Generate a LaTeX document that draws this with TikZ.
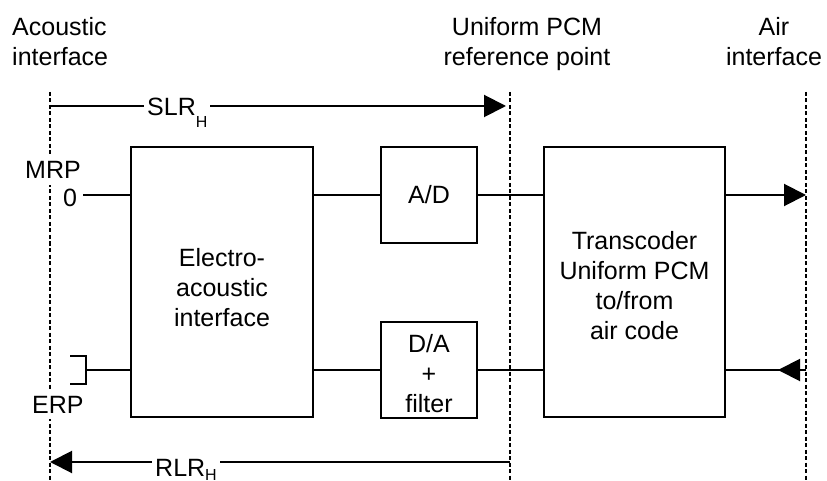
\documentclass[tikz,border=0pt]{standalone}
\usepackage{fontspec}
\setmainfont{Liberation Sans}
\usetikzlibrary{arrows.meta}
\newcommand{\subH}[1]{\raisebox{#1}{\fontsize{16}{16}\selectfont H}}
\begin{document}
\begin{tikzpicture}[x=1pt,y=-1pt,
  font=\fontsize{25}{30}\selectfont,
  every node/.style={inner sep=0pt},
  blk/.style={draw, line width=2pt, inner sep=0pt, align=center},
  wire/.style={line width=2pt},
  refline/.style={line width=1.6pt, dash pattern=on 4pt off 2.5pt},
  tri/.style={-{Triangle[length=22pt,width=22pt]}},
  lbl/.style={fill=white}
]
\useasboundingbox (0,0) rectangle (827,481);

% reference lines
\coordinate (acT) at (50,92);  \coordinate (acB) at (50,481);
\coordinate (puT) at (510,92); \coordinate (puB) at (510,481);
\coordinate (aiT) at (806,92); \coordinate (aiB) at (806,481);
\draw[refline] (acT) -- (acB);
\draw[refline] (puT) -- (puB);
\draw[refline] (aiT) -- (aiB);

% headings
\node[anchor=north west, align=left] (hac) at (12,17) {Acoustic\\interface};
\node[anchor=north, align=center] (hpcm) at (527,17) {Uniform PCM\\reference point};
\node[anchor=north, align=center] (hair) at (774,17) {Air\\interface};

% blocks
\node[blk, minimum width=182pt, minimum height=270pt] (ea) at (222,282) {\rule{0pt}{30pt}Electro-\\acoustic\\interface};
\node[blk, minimum width=96pt, minimum height=96pt] (ad) at (429,195) {A/D};
\node[blk, minimum width=96pt, minimum height=96pt] (da) at (429,370) {\rule{0pt}{26pt}D/A\\+\\filter};
\node[blk, minimum width=181pt, minimum height=270pt] (tc) at (634.5,282) {\rule{0pt}{26pt}Transcoder\\Uniform PCM\\to/from\\air code};

% upper path
\coordinate (mrpEnd) at (83,195);
\draw[wire] (mrpEnd) -- (mrpEnd -| ea.west);
\draw[wire] (ea.east |- ad.west) -- (ad.west);
\draw[wire] (ad.east) -- (ad.east -| tc.west);
\coordinate (airOut) at (806,195);
\draw[wire,tri] (tc.east |- airOut) -- (airOut);

% lower path
\coordinate (erpEnd) at (86,370);
\draw[wire] (erpEnd) ++(-16,-14) -- ++(16,0) -- ++(0,28) -- ++(-16,0);
\draw[wire] (erpEnd) -- (erpEnd -| ea.west);
\draw[wire] (ea.east |- da.west) -- (da.west);
\draw[wire] (da.east) -- (da.east -| tc.west);
\coordinate (airIn) at (806,370);
\draw[wire] (airIn) -- (airIn -| tc.east);
\draw[wire,tri] (airIn) -- ++(-28,0);

% SLR / RLR
\coordinate (slrA) at (50,106); \coordinate (slrB) at (506,106);
\draw[wire,tri] (slrA) -- (slrB);
\node[lbl, anchor=base west, inner xsep=3pt] (slr) at (144,116) {SLR\subH{-12pt}};
\coordinate (rlrA) at (510,462); \coordinate (rlrB) at (50,462);
\draw[wire,tri] (rlrA) -- (rlrB);
\node[lbl, anchor=base west, inner xsep=3pt] (rlr) at (152,476) {RLR\subH{-4pt}};

% MRP / ERP labels
\node[lbl, anchor=base west, inner xsep=1pt, inner ysep=6pt] (mrp) at (24,179) {MRP};
\node[anchor=base west] (zero) at (63,207) {0};
\node[lbl, anchor=base west, inner xsep=1pt, inner ysep=6pt] (erp) at (31,413) {ERP};
\end{tikzpicture}
\end{document}
